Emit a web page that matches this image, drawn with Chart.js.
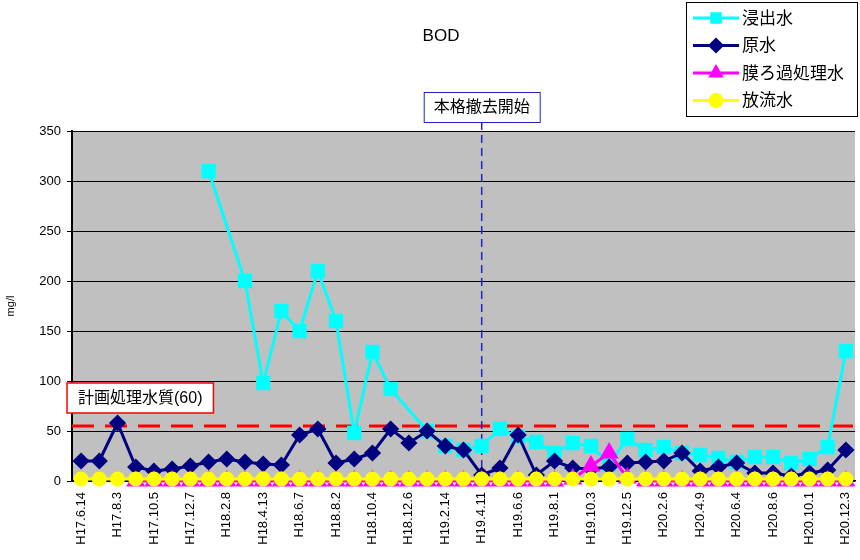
<!DOCTYPE html>
<html>
<head>
<meta charset="utf-8">
<script src="https://cdn.jsdelivr.net/npm/chart.js@4/dist/chart.umd.min.js"></script>
<style>
  html, body { margin: 0; padding: 0; background: #fff; }
  #wrap { width: 860px; height: 560px; position: relative; }
</style>
</head>
<body>
<div id="wrap"><canvas id="myChart" width="860" height="560"></canvas></div>
<script>
// sampling dates (only every other one is printed on the axis)
const dates = [
  "H17.6.14", "H17.7.6", "H17.8.3", "H17.9.7", "H17.10.5", "H17.11.9", "H17.12.7",
  "H18.1.11", "H18.2.8", "H18.3.8", "H18.4.13", "H18.5.10", "H18.6.7", "H18.7.5",
  "H18.8.2", "H18.9.6", "H18.10.4", "H18.11.8", "H18.12.6", "H19.1.10", "H19.2.14",
  "H19.3.7", "H19.4.11", "H19.5.9", "H19.6.6", "H19.7.4", "H19.8.1", "H19.9.5",
  "H19.10.3", "H19.11.7", "H19.12.5", "H20.1.9", "H20.2.6", "H20.3.5", "H20.4.9",
  "H20.5.7", "H20.6.4", "H20.7.2", "H20.8.6", "H20.9.3", "H20.10.1", "H20.11.5",
  "H20.12.3"
];

const leachate = [
  null, null, null, null, null, null, null,
  310, null, 200, 98, 170, 150, 210,
  160, 48, 129, 92, null, 50, 35,
  31, 35, 52, 44, 39, 28, 38,
  35, 17, 42, 31, 34, 28, 26,
  23, 19, 24, 24, 18, 22, 34,
  130
];
const rawWater = [
  20, 20, 58, 14, 10, 12, 15,
  19, 22, 19, 17, 16, 46, 52,
  18, 22, 28, 52, 38, 50, 35,
  31, 6, 13, 46, 6, 20, 13,
  12, 14, 18, 19, 20, 28, 10,
  14, 18, 8, 8, 5, 8, 11,
  31
];
const membrane = [
  null, null, null, 0, 0, 0, 0,
  0, 0, 0, 0, 0, 0, 0,
  0, 0, 0, 0, 0, 0, 0,
  0, 0, 0, 0, 0, 0, 2,
  15, 28, 3, 0, 0, 0, 0,
  0, 0, 0, 0, 0, 0, 0,
  0
];
const discharge = [
  2, 2, 2, 2, 2, 2, 2,
  2, 2, 2, 2, 2, 2, 2,
  2, 2, 2, 2, 2, 2, 2,
  2, 2, 2, 2, 2, 2, 2,
  2, 2, 2, 2, 2, 2, 2,
  2, 2, 2, 2, 2, 2, 2,
  2
];

const yTicks = [0, 50, 100, 150, 200, 250, 300, 350];
const planLimit = 55;            // 計画処理水質 line
const planLabel = "計画処理水質(60)";
const startDate = "H19.4.11";    // 本格撤去開始
const startLabel = "本格撤去開始";

const JP = '"Liberation Sans", "Noto Sans CJK JP", sans-serif';
const noPad = () => ({ left: 0, right: 0, top: 0, bottom: 0 });

const decor = {
  id: 'decor',
  beforeDraw(chart) {
    const { ctx, chartArea: a } = chart;
    ctx.save();
    ctx.fillStyle = '#C0C0C0';
    ctx.fillRect(a.left, a.top, a.right - a.left, a.bottom - a.top);
    ctx.restore();
  },
  beforeDatasetsDraw(chart) {
    const { ctx, chartArea: a, scales } = chart;
    ctx.save();
    // plan limit dashed line
    const yp = scales.y.getPixelForValue(planLimit);
    ctx.strokeStyle = '#FF0000';
    ctx.lineWidth = 3;
    ctx.setLineDash([22, 11]);
    ctx.beginPath();
    ctx.moveTo(a.left, yp);
    ctx.lineTo(a.right, yp);
    ctx.stroke();
    // start of removal vertical line
    const xp = scales.x.getPixelForValue(dates.indexOf(startDate));
    ctx.strokeStyle = '#2222CC';
    ctx.lineWidth = 1.5;
    ctx.setLineDash([8, 5]);
    ctx.beginPath();
    ctx.moveTo(xp, 122);
    ctx.lineTo(xp, a.bottom);
    ctx.stroke();
    ctx.restore();
  },
  afterDraw(chart) {
    const { ctx, chartArea: a, scales } = chart;
    ctx.save();
    // title
    ctx.fillStyle = '#000';
    ctx.font = '17px ' + JP;
    ctx.textAlign = 'center';
    ctx.textBaseline = 'middle';
    ctx.fillText('BOD', 441, 36);

    // start label box
    const xp = scales.x.getPixelForValue(dates.indexOf(startDate));
    ctx.font = '16px ' + JP;
    let w = ctx.measureText(startLabel).width + 20;
    ctx.fillStyle = '#fff';
    ctx.fillRect(xp - w / 2, 92, w, 30);
    ctx.strokeStyle = '#2222CC';
    ctx.lineWidth = 1;
    ctx.strokeRect(xp - w / 2 + 0.5, 92.5, w, 30);
    ctx.fillStyle = '#000';
    ctx.fillText(startLabel, xp, 108);

    // plan label box
    w = ctx.measureText(planLabel).width + 22;
    ctx.fillStyle = '#fff';
    ctx.fillRect(67, 383, w, 30);
    ctx.strokeStyle = '#FF0000';
    ctx.lineWidth = 1.5;
    ctx.strokeRect(67, 383, w, 30);
    ctx.fillStyle = '#000';
    ctx.fillText(planLabel, 67 + w / 2, 399);

    // legend
    ctx.font = '17px ' + JP;
    ctx.fillStyle = '#fff';
    ctx.fillRect(686, 2, 172, 115);
    ctx.strokeStyle = '#000';
    ctx.lineWidth = 1;
    ctx.strokeRect(686.5, 2.5, 171, 114);
    ctx.textAlign = 'left';
    chart.data.datasets.forEach((ds, i) => {
      const y = 18 + i * 27.5;
      ctx.strokeStyle = ds.borderColor;
      ctx.lineWidth = 3;
      ctx.setLineDash([]);
      ctx.beginPath();
      ctx.moveTo(693, y);
      ctx.lineTo(739, y);
      ctx.stroke();
      ctx.fillStyle = ds.pointBackgroundColor;
      ctx.strokeStyle = ds.pointBackgroundColor;
      Chart.helpers.drawPoint(ctx, {
        pointStyle: ds.pointStyle, radius: 6, borderWidth: 1
      }, 716, y);
      ctx.fillStyle = '#000';
      ctx.fillText(ds.label, 742, y + 1);
    });
    ctx.restore();
  }
};

const ctx = document.getElementById('myChart');

new Chart(ctx, {
  type: 'line',
  data: {
    labels: dates,
    datasets: [
      {
        label: '浸出水', data: leachate, order: 3, spanGaps: true, clip: false,
        borderColor: '#00FFFF', backgroundColor: '#00FFFF',
        pointBackgroundColor: '#00FFFF', pointBorderColor: '#00FFFF',
        pointStyle: 'rect', pointRadius: 8, borderWidth: 3
      },
      {
        label: '原水', data: rawWater, order: 2, clip: false,
        borderColor: '#000080', backgroundColor: '#000080',
        pointBackgroundColor: '#000080', pointBorderColor: '#000080',
        pointStyle: 'rectRot', pointRadius: 6.5, borderWidth: 3
      },
      {
        label: '膜ろ過処理水', data: membrane, order: 1, clip: false,
        borderColor: '#FF00FF', backgroundColor: '#FF00FF',
        pointBackgroundColor: '#FF00FF', pointBorderColor: '#FF00FF',
        pointStyle: 'triangle', pointRadius: 8, borderWidth: 3
      },
      {
        label: '放流水', data: discharge, order: 0, clip: false,
        borderColor: '#FFFF00', backgroundColor: '#FFFF00',
        pointBackgroundColor: '#FFFF00', pointBorderColor: '#FFFF00',
        pointStyle: 'circle', pointRadius: 6, borderWidth: 3
      }
    ]
  },
  options: {
    responsive: false,
    animation: false,
    devicePixelRatio: 1,
    layout: { autoPadding: false, padding: { top: 131, right: 5, left: 0, bottom: 0 } },
    plugins: {
      legend: { display: false },
      title: { display: false },
      tooltip: { enabled: false }
    },
    elements: { line: { tension: 0 } },
    scales: {
      x: {
        offset: true,
        grid: { display: false, drawOnChartArea: false },
        border: { color: '#000', width: 1.5 },
        ticks: {
          autoSkip: false, maxRotation: 90, minRotation: 90,
          color: '#000', font: { family: '"Liberation Sans", Arial, sans-serif', size: 13 },
          padding: 3,
          callback: function(v, i) { return i % 2 === 0 ? dates[i] : ''; }
        },
        afterFit(scale) {
          scale.height = 79;
          scale.paddingLeft = 0;
          scale.paddingRight = 0;
          scale.getPadding = noPad;
        }
      },
      y: {
        min: 0, max: 350,
        afterBuildTicks(scale) { scale.ticks = yTicks.map(v => ({ value: v })); },
        grid: { color: '#000', lineWidth: 1, tickLength: 5, tickColor: '#000' },
        border: { color: '#000', width: 2 },
        ticks: {
          color: '#000', font: { family: '"Liberation Sans", Arial, sans-serif', size: 13 },
          padding: 6
        },
        title: {
          display: true, text: 'mg/l', color: '#000',
          font: { family: '"Liberation Sans", Arial, sans-serif', size: 11 }
        },
        afterFit(scale) {
          scale.width = 72;
          scale.getPadding = noPad;
        }
      }
    }
  },
  plugins: [decor]
});
</script>
</body>
</html>
